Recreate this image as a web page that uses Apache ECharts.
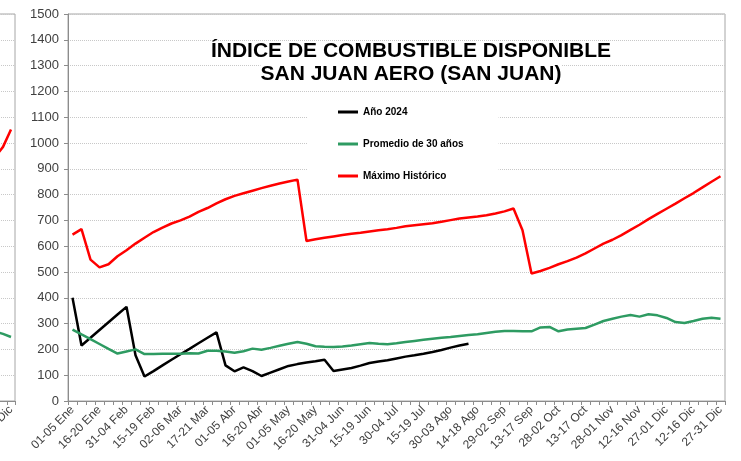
<!DOCTYPE html>
<html>
<head>
<meta charset="utf-8">
<script src="https://cdn.jsdelivr.net/npm/echarts@6/dist/echarts.min.js"></script>
<style>
  html, body { margin: 0; padding: 0; background: #fff; }
  #chart { width: 741px; height: 461px; }
</style>
</head>
<body>
<div id="chart"></div>
<script>
// categorias (pentadas del año)
var categorias = [
  '01-05 Ene', '06-10 Ene', '11-15 Ene', '16-20 Ene', '21-25 Ene', '26-30 Ene',
  '31-04 Feb', '05-09 Feb', '10-14 Feb', '15-19 Feb', '20-24 Feb', '25-01 Mar',
  '02-06 Mar', '07-11 Mar', '12-16 Mar', '17-21 Mar', '22-26 Mar', '27-31 Mar',
  '01-05 Abr', '06-10 Abr', '11-15 Abr', '16-20 Abr', '21-25 Abr', '26-30 Abr',
  '01-05 May', '06-10 May', '11-15 May', '16-20 May', '21-25 May', '26-30 May',
  '31-04 Jun', '05-09 Jun', '10-14 Jun', '15-19 Jun', '20-24 Jun', '25-29 Jun',
  '30-04 Jul', '05-09 Jul', '10-14 Jul', '15-19 Jul', '20-24 Jul', '25-29 Jul',
  '30-03 Ago', '04-08 Ago', '09-13 Ago', '14-18 Ago', '19-23 Ago', '24-28 Ago',
  '29-02 Sep', '03-07 Sep', '08-12 Sep', '13-17 Sep', '18-22 Sep', '23-27 Sep',
  '28-02 Oct', '03-07 Oct', '08-12 Oct', '13-17 Oct', '18-22 Oct', '23-27 Oct',
  '28-01 Nov', '02-06 Nov', '07-11 Nov', '12-16 Nov', '17-21 Nov', '22-26 Nov',
  '27-01 Dic', '02-06 Dic', '07-11 Dic', '12-16 Dic', '17-21 Dic', '22-26 Dic',
  '27-31 Dic'
];

// Año 2024 (hasta mediados de agosto)
var anio2024 = [
  400, 215, 245, 275, 305, 335, 365, 177, 95, 116, 138, 160, 181, 202, 224, 245,
  266, 138, 115, 130, 116, 97, 110, 123, 136, 143, 149, 154, 160, 116, 122, 128,
  137, 147, 153, 158, 165, 172, 177, 183, 190, 198, 207, 215, 222
];

// Promedio de 30 años
var promedio30 = [
  277, 258, 240, 221, 202, 184, 192, 200, 182, 182, 183, 183, 183, 185, 184, 195,
  195, 192, 187, 193, 203, 199, 206, 214, 222, 229, 222, 212, 210, 209, 211, 215,
  220, 225, 222, 220, 224, 229, 233, 237, 241, 245, 248, 252, 256, 259, 264, 268,
  271, 271, 270, 270, 285, 287, 270, 277, 280, 283, 296, 310, 319, 327, 333, 327,
  336, 332, 322, 306, 302, 310, 319, 323, 319
];

// Máximo Histórico
var maximoHist = [
  645, 666, 548, 518, 530, 561, 584, 610, 633, 655, 672, 688, 700, 715, 733, 748,
  766, 782, 795, 805, 815, 825, 834, 843, 851, 858, 620, 627, 633, 638, 643, 648,
  652, 657, 662, 666, 671, 677, 681, 685, 689, 695, 701, 707, 711, 715, 720, 727,
  735, 746, 662, 494, 504, 516, 530, 542, 556, 572, 591, 610, 625, 643, 663, 683,
  705, 725, 745, 765, 786, 806, 828, 850, 871
];

// trozo del grafico vecino (recortado a la izquierda)
var vecinoCats = ['17-21 Dic', '22-26 Dic', '27-31 Dic'];
var vecinoMax = [945, 985, 1052];
var vecinoProm = [270, 260, 248];

var FONT = 'Liberation Sans, Arial, sans-serif';
var grisEje = '#8c8c8c';

var chart = echarts.init(document.getElementById('chart'));

var option = {
  animation: false,
  title: {
    text: '{a|ÍNDICE DE COMBUSTIBLE DISPONIBLE}\n{a|SAN JUAN AERO (SAN JUAN)}',
    left: 406,
    top: 35,
    textAlign: 'center',
    textStyle: {
      rich: {
        a: {
          fontFamily: FONT,
          fontSize: 21,
          fontWeight: 'bold',
          color: '#000',
          lineHeight: 23,
          backgroundColor: '#fff'
        }
      }
    }
  },
  legend: {
    orient: 'vertical',
    left: 307,
    top: 96,
    padding: [10, 35, 6, 31],
    backgroundColor: '#fff',
    itemWidth: 20,
    itemHeight: 3,
    itemGap: 20,
    icon: 'rect',
    textStyle: { fontFamily: FONT, fontSize: 10, fontWeight: 'bold', color: '#000', lineHeight: 12 },
    data: ['Año 2024', 'Promedio de 30 años', 'Máximo Histórico']
  },
  grid: [
    { left: 68, right: 16, top: 14, bottom: 60, outerBoundsMode: 'none',
      show: true, borderColor: '#a6a6a6', borderWidth: 1 },
    { left: -9, width: 24, top: 14, bottom: 60, outerBoundsMode: 'none',
      show: true, borderColor: '#a6a6a6', borderWidth: 1 }
  ],
  xAxis: [
    {
      type: 'category',
      gridIndex: 0,
      data: categorias,
      boundaryGap: true,
      axisLine: { lineStyle: { color: grisEje } },
      axisTick: { show: true, interval: 0, length: 4, lineStyle: { color: grisEje } },
      axisLabel: { interval: 2, rotate: 45, fontFamily: FONT, fontSize: 12, color: '#404040', margin: 7 }
    },
    {
      type: 'category',
      gridIndex: 1,
      data: vecinoCats,
      boundaryGap: true,
      axisLine: { lineStyle: { color: grisEje } },
      axisTick: { show: true, interval: 0, length: 4, lineStyle: { color: grisEje } },
      axisLabel: {
        interval: function (i) { return i === vecinoCats.length - 1; },
        rotate: 45, fontFamily: FONT, fontSize: 12, color: '#404040', margin: 7
      }
    }
  ],
  yAxis: [
    {
      type: 'value',
      gridIndex: 0,
      min: 0,
      max: 1500,
      interval: 100,
      axisLine: { show: true, lineStyle: { color: grisEje } },
      axisTick: { show: true, length: 4, lineStyle: { color: grisEje } },
      axisLabel: {
        fontFamily: FONT, fontSize: 13, color: '#404040', margin: 9,
        formatter: function (v) { return String(v); }
      },
      splitLine: { lineStyle: { color: '#c8c8c8', type: 'dotted' } }
    },
    {
      type: 'value',
      gridIndex: 1,
      min: 0,
      max: 1500,
      interval: 100,
      axisLine: { show: false },
      axisTick: { show: false },
      axisLabel: { show: false },
      splitLine: { lineStyle: { color: '#c8c8c8', type: 'dotted' } }
    }
  ],
  series: [
    {
      name: 'Año 2024', type: 'line', data: anio2024,
      xAxisIndex: 0, yAxisIndex: 0,
      showSymbol: false, symbol: 'none',
      lineStyle: { color: '#000', width: 2.5 }, itemStyle: { color: '#000' }
    },
    {
      name: 'Promedio de 30 años', type: 'line', data: promedio30,
      xAxisIndex: 0, yAxisIndex: 0,
      showSymbol: false, symbol: 'none',
      lineStyle: { color: '#2e9b62', width: 2.5 }, itemStyle: { color: '#2e9b62' }
    },
    {
      name: 'Máximo Histórico', type: 'line', data: maximoHist,
      xAxisIndex: 0, yAxisIndex: 0,
      showSymbol: false, symbol: 'none',
      lineStyle: { color: '#ff0000', width: 2.5 }, itemStyle: { color: '#ff0000' }
    },
    {
      name: 'vecinoProm', type: 'line', data: vecinoProm,
      xAxisIndex: 1, yAxisIndex: 1,
      showSymbol: false, symbol: 'none',
      lineStyle: { color: '#2e9b62', width: 2.5 }
    },
    {
      name: 'vecinoMax', type: 'line', data: vecinoMax,
      xAxisIndex: 1, yAxisIndex: 1,
      showSymbol: false, symbol: 'none',
      lineStyle: { color: '#ff0000', width: 2.5 }
    }
  ]
};

chart.setOption(option);
</script>
</body>
</html>
